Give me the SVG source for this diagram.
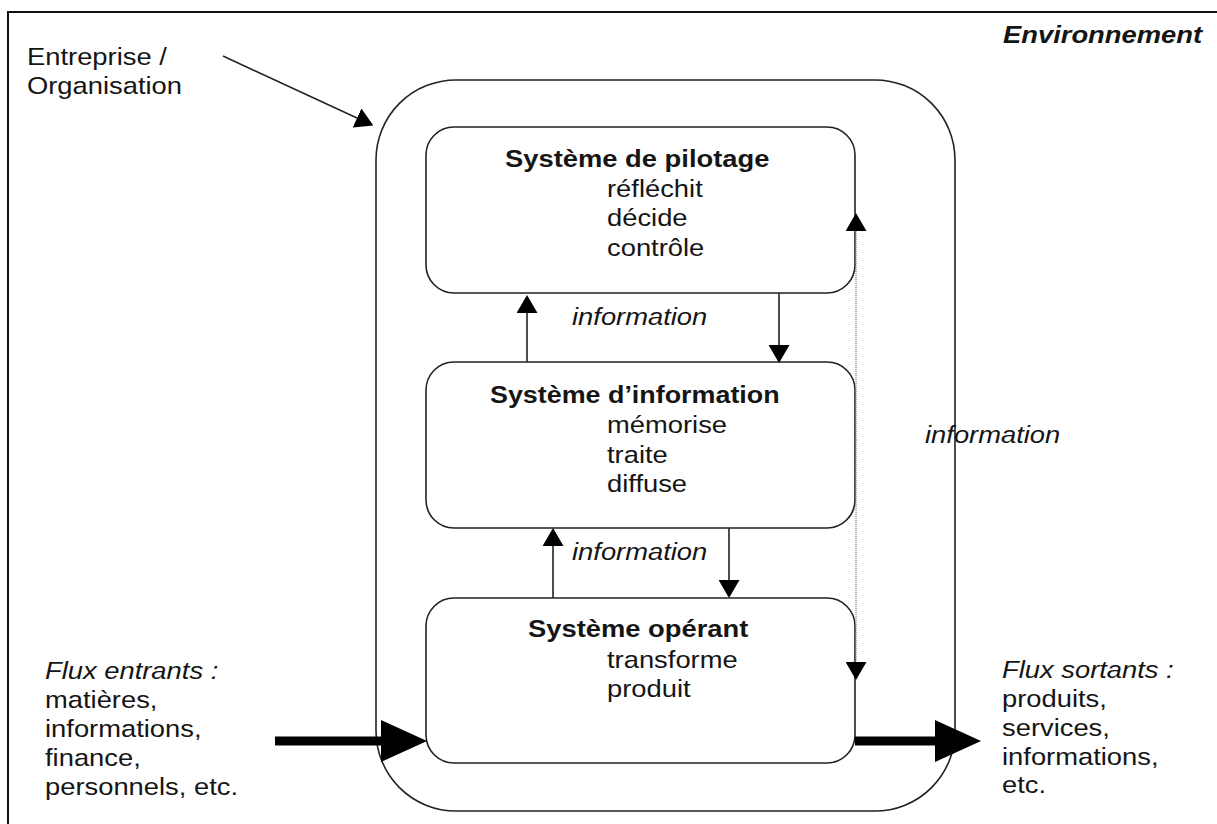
<svg xmlns="http://www.w3.org/2000/svg" width="1217" height="824" viewBox="0 0 1217 824">
  <style>
    .t { font-family: "Liberation Sans", Arial, sans-serif; font-size: 24px; fill: #151515; }
    .b { font-weight: bold; }
    .i { font-style: italic; }
    .box { fill: none; stroke: #222; stroke-width: 1.6; }
    .flow { fill: none; stroke: #222; stroke-width: 1.6; }
    .feedback { fill: none; stroke: #999; stroke-width: 1.6; stroke-dasharray: 1 1; }
    .thick { fill: none; stroke: #000; stroke-width: 9; }
  </style>
  <defs>
    <marker id="head" markerUnits="userSpaceOnUse" markerWidth="18" markerHeight="21" viewBox="0 0 18 21" refX="0" refY="10.5" orient="auto">
      <path d="M0,0 L18,10.5 L0,21 z" fill="#000"/>
    </marker>
    <marker id="big" markerUnits="userSpaceOnUse" markerWidth="46" markerHeight="42" viewBox="0 0 46 42" refX="0" refY="21" orient="auto">
      <path d="M0,0 L46,21 L0,42 z" fill="#000"/>
    </marker>
  </defs>

  <rect width="1217" height="824" fill="#fff"/>

  <!-- environment frame -->
  <g id="environnement">
    <rect x="8" y="12" width="1240" height="850" fill="none" stroke="#111" stroke-width="2"/>
    <text class="t b i" transform="translate(1003,0) scale(1.14,1)"><tspan x="0" y="43">Environnement</tspan></text>
  </g>

  <!-- the organisation boundary -->
  <g id="entreprise">
    <rect x="376" y="80" width="579" height="731" rx="80" ry="80" class="box"/>
    <text class="t" transform="translate(27,0) scale(1.14,1)"><tspan x="0" y="65">Entreprise /</tspan><tspan x="0" y="94">Organisation</tspan></text>
  </g>

  <g id="pilotage">
    <rect x="426" y="127" width="429" height="166" rx="28" ry="28" class="box"/>
    <text class="t b" transform="translate(505,0) scale(1.14,1)"><tspan x="0" y="167">Système de pilotage</tspan></text>
    <text class="t" transform="translate(607,0) scale(1.14,1)"><tspan x="0" y="197">réfléchit</tspan><tspan x="0" y="226">décide</tspan><tspan x="0" y="256">contrôle</tspan></text>
  </g>

  <g id="information">
    <rect x="426" y="362" width="429" height="166" rx="28" ry="28" class="box"/>
    <text class="t b" transform="translate(490,0) scale(1.12,1)"><tspan x="0" y="403">Système d’information</tspan></text>
    <text class="t" transform="translate(607,0) scale(1.14,1)"><tspan x="0" y="433">mémorise</tspan><tspan x="0" y="463">traite</tspan><tspan x="0" y="492">diffuse</tspan></text>
  </g>

  <g id="operant">
    <rect x="426" y="598" width="429" height="165" rx="28" ry="28" class="box"/>
    <text class="t b" transform="translate(528,0) scale(1.14,1)"><tspan x="0" y="637">Système opérant</tspan></text>
    <text class="t" transform="translate(607,0) scale(1.14,1)"><tspan x="0" y="668">transforme</tspan><tspan x="0" y="697">produit</tspan></text>
  </g>

  <g id="flux-entrants">
    <text class="t" transform="translate(45,0) scale(1.14,1)"><tspan x="0" y="679" class="i">Flux entrants :</tspan><tspan x="0" y="708">matières,</tspan><tspan x="0" y="737">informations,</tspan><tspan x="0" y="766">finance,</tspan><tspan x="0" y="795">personnels, etc.</tspan></text>
  </g>

  <g id="flux-sortants">
    <text class="t" transform="translate(1002,0) scale(1.14,1)"><tspan x="0" y="678" class="i">Flux sortants :</tspan><tspan x="0" y="707">produits,</tspan><tspan x="0" y="736">services,</tspan><tspan x="0" y="765">informations,</tspan><tspan x="0" y="793">etc.</tspan></text>
  </g>

  <!-- connectors -->
  <g id="connectors">
    <line x1="223" y1="56" x2="357" y2="118" class="flow" marker-end="url(#head)"/>

    <line x1="527" y1="362" x2="527" y2="313" class="flow" marker-end="url(#head)"/>
    <line x1="779" y1="293" x2="779" y2="345" class="flow" marker-end="url(#head)"/>
    <line x1="553" y1="598" x2="553" y2="546" class="flow" marker-end="url(#head)"/>
    <line x1="729" y1="528" x2="729" y2="580" class="flow" marker-end="url(#head)"/>

    <line x1="856" y1="440" x2="856" y2="231" class="feedback" marker-end="url(#head)"/>
    <line x1="856" y1="440" x2="856" y2="662" class="feedback" marker-end="url(#head)"/>

    <line x1="275" y1="741" x2="381" y2="741" class="thick" marker-end="url(#big)"/>
    <line x1="855" y1="741" x2="935" y2="741" class="thick" marker-end="url(#big)"/>

    <text class="t i" transform="translate(572,0) scale(1.14,1)"><tspan x="0" y="325">information</tspan></text>
    <text class="t i" transform="translate(572,0) scale(1.14,1)"><tspan x="0" y="560">information</tspan></text>
    <text class="t i" transform="translate(925,0) scale(1.14,1)"><tspan x="0" y="443">information</tspan></text>
  </g>
</svg>
